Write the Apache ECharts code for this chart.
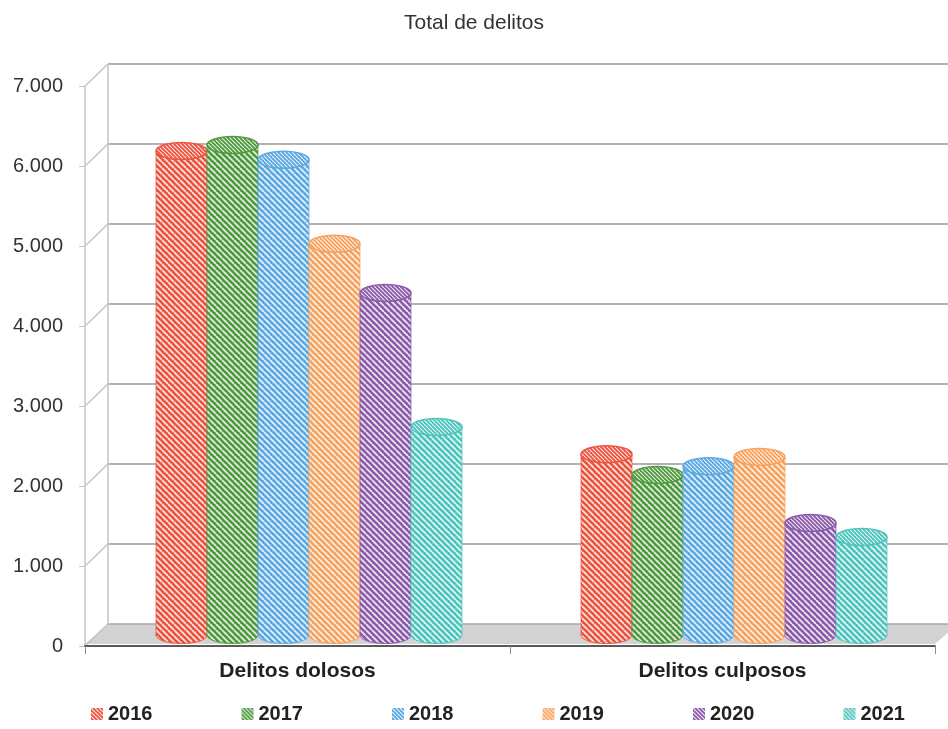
<!DOCTYPE html>
<html>
	<head>
		<meta charset="utf-8"/>
		<title>Total de delitos</title>
		<style type="text/css">
			*{margin: 0;padding: 0;}
			html,body{width: 100%;height: 100%;background: #fff;}
			.chart{width: 948px;height: 729px;}
		</style>
		<script type="text/javascript" src="https://cdn.jsdelivr.net/npm/echarts@6/dist/echarts.min.js"></script>
	</head>
	<body>
		<div class="chart js-chart"></div>
		<script type="text/javascript">
			// datos
			var CATEGORIES=["Delitos dolosos","Delitos culposos"];
			var YEARS=["2016","2017","2018","2019","2020","2021"];
			var V2016=[6050,2260];
			var V2017=[6125,2000];
			var V2018=[5940,2110];
			var V2019=[4890,2225];
			var V2020=[4275,1400];
			var V2021=[2600,1225];
			var Y_TICKS=[0,1000,2000,3000,4000,5000,6000,7000];

			var COLORS=["#EC5340","#4F9A3F","#5BA8E2","#F7A25E","#8B5BAA","#4EC4BD"];
			var DX=23,DY=-22;	//profundidad 3D
			var FONT="'Liberation Sans', Arial, sans-serif";

			function hatch(color,size,lw){
				var c=document.createElement("canvas");
				c.width=size;c.height=size;
				var ctx=c.getContext("2d");
				ctx.fillStyle=color;
				ctx.fillRect(0,0,size,size);
				ctx.strokeStyle="rgba(255,255,255,0.85)";
				ctx.lineWidth=lw;
				for(var k=-size;k<=size;k+=size){
					ctx.beginPath();
					ctx.moveTo(k,0);
					ctx.lineTo(k+size,size);
					ctx.stroke();
				}
				return {image:c,repeat:"repeat"};
			}
			function fmt(v){
				return String(v).replace(/\B(?=(\d{3})+(?!\d))/g,".");
			}

			var values=[V2016,V2017,V2018,V2019,V2020,V2021];
			var series=[];

			// paredes, lineas de fondo y suelo
			series.push({
				type:"custom",
				silent:true,
				z:1,
				data:[[0]],
				renderItem:function(params,api){
					var cs=params.coordSys;
					var x0=cs.x,x1=cs.x+cs.width;
					var kids=[];
					var y0=api.coord([0,0])[1];
					// suelo
					kids.push({
						type:"polygon",
						shape:{points:[[x0,y0-2],[x0+DX,y0+DY],[x1+DX,y0+DY],[x1,y0-2]]},
						style:{fill:"#d3d3d3",stroke:null}
					});
					for(var i=0;i<Y_TICKS.length;i++){
						var y=api.coord([0,Y_TICKS[i]])[1];
						kids.push({
							type:"line",
							shape:{x1:x0,y1:y,x2:x0+DX,y2:y+DY},
							style:{stroke:"#c4c4c4",lineWidth:1.5}
						});
						kids.push({
							type:"line",
							shape:{x1:x0+DX,y1:y+DY,x2:x1+DX,y2:y+DY},
							style:{stroke:i==0?"#a8a8a8":"#b2b2b2",lineWidth:i==0?1.5:2}
						});
					}
					var yt=api.coord([0,Y_TICKS[Y_TICKS.length-1]])[1];
					kids.push({
						type:"line",
						shape:{x1:x0+DX,y1:yt+DY,x2:x0+DX,y2:y0+DY},
						style:{stroke:"#c4c4c4",lineWidth:1.5}
					});
					return {type:"group",children:kids};
				}
			});

			// cilindros
			for(var s=0;s<YEARS.length;s++){
				(function(si){
					var body=hatch(COLORS[si],6,1.7);
					var top=hatch(COLORS[si],4,1.1);
					var data=[];
					for(var c=0;c<CATEGORIES.length;c++){
						data.push([c,values[si][c]]);
					}
					series.push({
						name:YEARS[si],
						type:"custom",
						z:2,
						itemStyle:{color:body},
						encode:{x:0,y:1},
						data:data,
						renderItem:function(params,api){
							var cat=api.value(0),val=api.value(1);
							var band=api.size([1,0])[0];
							var bw=band*0.12;
							var base=api.coord([cat,0]);
							var pt=api.coord([cat,val]);
							var cx=base[0]+(si-2.5)*bw+DX/2;
							var yb=base[1]+DY/2;
							var yt=pt[1]+DY/2;
							var rx=bw/2,ry=8.5;
							return {
								type:"group",
								children:[
									{type:"ellipse",shape:{cx:cx,cy:yb,rx:rx,ry:ry},style:{fill:body,stroke:COLORS[si],lineWidth:1}},
									{type:"rect",shape:{x:cx-rx,y:yt,width:bw,height:yb-yt},style:{fill:body}},
									{type:"line",shape:{x1:cx-rx,y1:yt,x2:cx-rx,y2:yb},style:{stroke:COLORS[si],lineWidth:1,opacity:0.7}},
									{type:"line",shape:{x1:cx+rx,y1:yt,x2:cx+rx,y2:yb},style:{stroke:COLORS[si],lineWidth:1,opacity:0.7}},
									{type:"ellipse",shape:{cx:cx,cy:yt,rx:rx,ry:ry},style:{fill:top,stroke:COLORS[si],lineWidth:1.5}}
								]
							};
						}
					});
				})(s);
			}

			var legendData=[];
			for(var i=0;i<YEARS.length;i++){
				legendData.push({name:YEARS[i],icon:"rect",itemStyle:{color:hatch(COLORS[i],4,1.2)}});
			}

			var chart=echarts.init(document.querySelector(".js-chart"));
			chart.setOption({
				animation:false,
				backgroundColor:"#fff",
				title:{
					text:"Total de delitos",
					left:"center",
					top:8,
					textStyle:{fontFamily:FONT,fontSize:21,fontWeight:"normal",color:"#333"}
				},
				legend:{
					data:legendData,
					left:86,
					top:699,
					itemWidth:12,
					itemHeight:12,
					itemGap:89,
					textStyle:{fontFamily:FONT,fontSize:20,fontWeight:"bold",color:"#222"}
				},
				grid:{left:85,right:13,top:86,bottom:83},
				xAxis:{
					type:"category",
					data:CATEGORIES,
					axisLine:{lineStyle:{color:"#595959",width:2}},
					axisTick:{show:true,length:8,lineStyle:{color:"#8a8a8a"}},
					axisLabel:{margin:15,fontFamily:FONT,fontSize:21,fontWeight:"bold",color:"#222"},
					splitLine:{show:false},
					z:3
				},
				yAxis:{
					type:"value",
					min:0,
					max:7000,
					interval:1000,
					axisLine:{show:true,lineStyle:{color:"#c4c4c4",width:1.5}},
					axisTick:{show:true,length:6,lineStyle:{color:"#c4c4c4"}},
					axisLabel:{margin:22,fontFamily:FONT,fontSize:20,color:"#333",formatter:fmt},
					splitLine:{show:false}
				},
				series:series
			});
		</script>
	</body>
</html>
